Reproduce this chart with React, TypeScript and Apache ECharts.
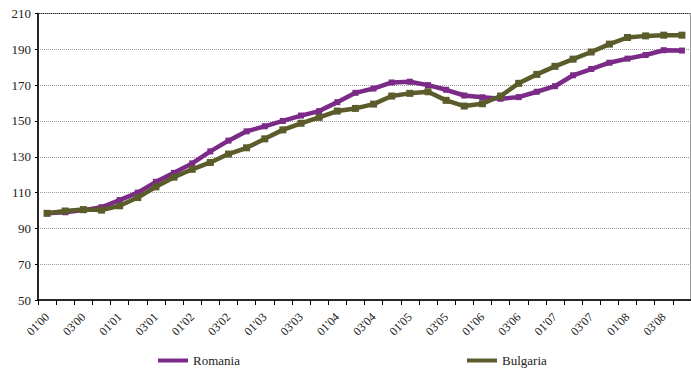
import React, { useEffect, useRef } from "react";
import * as echarts from "echarts";

const categories: string[] = [];
const years = ["00", "01", "02", "03", "04", "05", "06", "07", "08"];
const quarters = ["01", "02", "03", "04"];
for (const y of years) for (const q of quarters) categories.push(`${q}'${y}`);

const romania = [
  98.5, 99, 100.2, 101.8, 105.8, 110, 116, 121, 126.3, 133, 139, 144.2,
  147, 150, 153, 155.5, 160.5, 165.7, 168.1, 171.5, 171.9, 170, 167.4, 164.2,
  163.2, 162.4, 163.3, 166.3, 169.4, 175.5, 179, 182.5, 184.8, 186.8, 189.5, 189.3,
];
const bulgaria = [
  98.4, 99.7, 100.5, 100.2, 102.6, 107.2, 113.2, 118.6, 123, 126.8, 131.5, 135,
  140, 145, 148.7, 152, 155.5, 157, 159.4, 163.9, 165.4, 166.3, 161.5, 158.3,
  159.6, 163.9, 171, 176, 180.5, 184.5, 188.5, 192.9, 196.6, 197.5, 197.9, 197.9,
];
const yMin = 50;
const yMax = 210;
const yStep = 20;

const FONT = "'Liberation Serif', 'Times New Roman', serif";

export default function App() {
  const ref = useRef<HTMLDivElement>(null);
  useEffect(() => {
    if (!ref.current) return;
    const chart = echarts.init(ref.current, undefined, { renderer: "svg" });
    chart.setOption({
      animation: false,
      backgroundColor: "#ffffff",
      textStyle: { fontFamily: FONT },
      grid: {
        left: 38,
        top: 13.5,
        bottom: 68,
        right: -6.7,
        show: true,
        borderColor: "#333333",
        borderWidth: 1,
        backgroundColor: "transparent",
      },
      legend: [
        {
          data: ["Romania"],
          left: 158,
          top: 354,
          icon: "rect",
          itemWidth: 30,
          itemHeight: 4,
          itemGap: 12,
          padding: 0,
          textStyle: { fontFamily: FONT, fontSize: 13, lineHeight: 13, color: "#222" },
        },
        {
          data: ["Bulgaria"],
          left: 467,
          top: 354,
          icon: "rect",
          itemWidth: 30,
          itemHeight: 4,
          itemGap: 12,
          padding: 0,
          textStyle: { fontFamily: FONT, fontSize: 13, lineHeight: 13, color: "#222" },
        },
      ],
      xAxis: {
        type: "category",
        data: categories,
        boundaryGap: true,
        axisLine: { lineStyle: { color: "#000", width: 1.5 } },
        axisTick: { show: true, interval: 0, length: 5, lineStyle: { color: "#000" } },
        axisLabel: {
          interval: 1,
          rotate: 45,
          margin: 15,
          fontFamily: FONT,
          fontSize: 12,
          color: "#222",
        },
        splitLine: { show: false },
      },
      yAxis: {
        type: "value",
        min: yMin,
        max: yMax,
        interval: yStep,
        axisLine: { show: true, lineStyle: { color: "#000", width: 1.5 } },
        axisTick: { show: true, length: 3, lineStyle: { color: "#000" } },
        axisLabel: { margin: 7, fontFamily: FONT, fontSize: 13, color: "#222" },
        splitLine: { show: true, lineStyle: { color: "#9a9a9a", type: "dotted", width: 1 } },
      },
      series: [
        {
          name: "Romania",
          type: "line",
          data: romania,
          symbol: "rect",
          symbolSize: 6,
          itemStyle: { color: "#7b2a88" },
          lineStyle: { color: "#7b2a88", width: 4.5 },
          z: 3,
        },
        {
          name: "Bulgaria",
          type: "line",
          data: bulgaria,
          symbol: "rect",
          symbolSize: 7,
          itemStyle: { color: "#5b5b2b" },
          lineStyle: { color: "#5b5b2b", width: 4.5 },
          z: 4,
        },
      ],
    });
    return () => chart.dispose();
  }, []);
  return (
    <div
      ref={ref}
      style={{ position: "fixed", left: 0, top: 0, width: 691, height: 368, background: "#fff" }}
    />
  );
}
